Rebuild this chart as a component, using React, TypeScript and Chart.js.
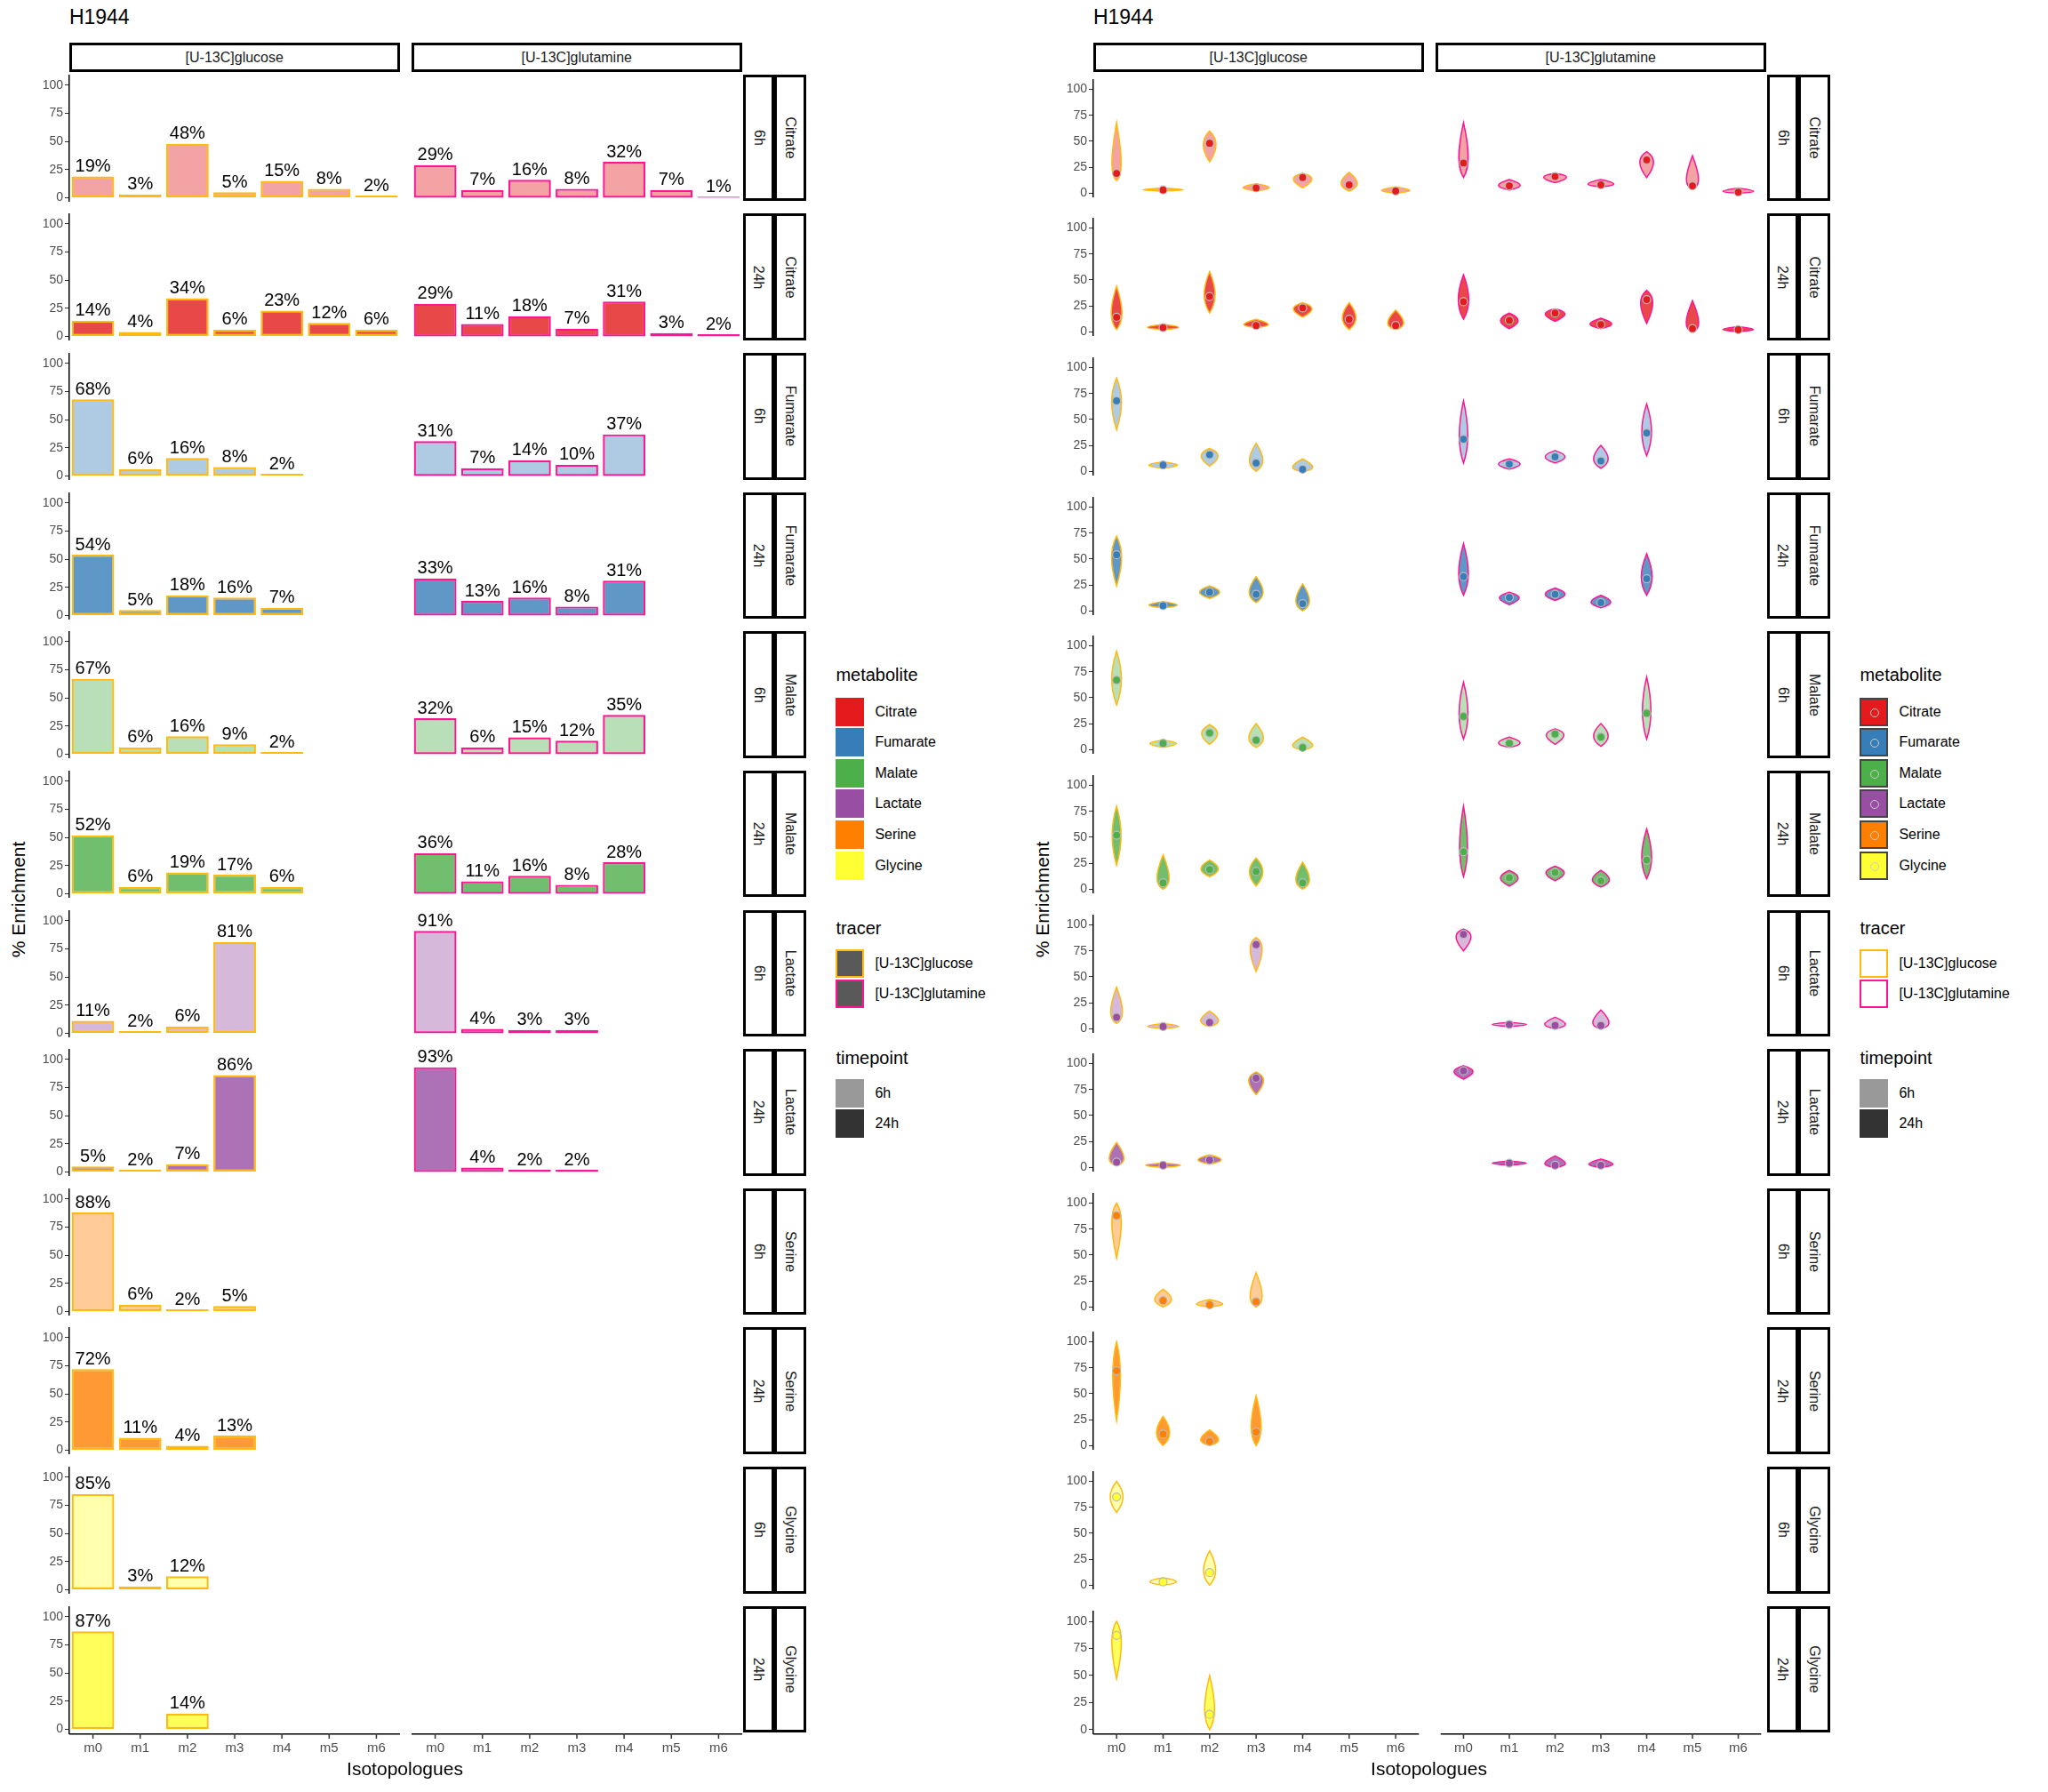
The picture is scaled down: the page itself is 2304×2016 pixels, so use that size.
import React, { useEffect, useRef } from "react";
import { Chart, registerables } from "chart.js";
Chart.register(...registerables);

const S = 2304 / 1568;
const FONT = "'Liberation Sans', Arial, sans-serif";

const metabolites = ["Citrate", "Fumarate", "Malate", "Lactate", "Serine", "Glycine"];
const timepoints = ["6h", "24h"];
const tracers = ["[U-13C]glucose", "[U-13C]glutamine"];
const isotopologues = ["m0", "m1", "m2", "m3", "m4", "m5", "m6"];
const yTicks = [0, 25, 50, 75, 100];

const metaboliteColors = ["#E41A1C", "#377EB8", "#4DAF4A", "#984EA3", "#FF7F00", "#FFFF33"];
const tracerColors = ["#FFB90F", "#FF1493"];

// mean enrichment (%) per isotopologue
const citrate6hGlucose = [19, 3, 48, 5, 15, 8, 2];
const citrate6hGlutamine = [29, 7, 16, 8, 32, 7, 1];
const citrate24hGlucose = [14, 4, 34, 6, 23, 12, 6];
const citrate24hGlutamine = [29, 11, 18, 7, 31, 3, 2];
const fumarate6hGlucose = [68, 6, 16, 8, 2];
const fumarate6hGlutamine = [31, 7, 14, 10, 37];
const fumarate24hGlucose = [54, 5, 18, 16, 7];
const fumarate24hGlutamine = [33, 13, 16, 8, 31];
const malate6hGlucose = [67, 6, 16, 9, 2];
const malate6hGlutamine = [32, 6, 15, 12, 35];
const malate24hGlucose = [52, 6, 19, 17, 6];
const malate24hGlutamine = [36, 11, 16, 8, 28];
const lactate6hGlucose = [11, 2, 6, 81];
const lactate6hGlutamine = [91, 4, 3, 3];
const lactate24hGlucose = [5, 2, 7, 86];
const lactate24hGlutamine = [93, 4, 2, 2];
const serine6hGlucose = [88, 6, 2, 5];
const serine24hGlucose = [72, 11, 4, 13];
const glycine6hGlucose = [85, 3, 12];
const glycine24hGlucose = [87, null, 14];

// violin ranges [low, high] per isotopologue
const citrate6hGlucoseRange = [[12, 68], [2, 5], [30, 60], [2, 9], [5, 19], [2, 20], [0, 6]];
const citrate6hGlutamineRange = [[15, 68], [3, 13], [10, 19], [6, 13], [15, 40], [4, 36], [0, 5]];
const citrate24hGlucoseRange = [[2, 44], [2, 7], [18, 58], [4, 12], [14, 28], [2, 28], [2, 21]];
const citrate24hGlutamineRange = [[12, 55], [3, 18], [10, 22], [3, 13], [8, 40], [0, 30], [0, 5]];
const fumarate6hGlucoseRange = [[40, 90], [3, 9], [5, 22], [0, 27], [0, 12]];
const fumarate6hGlutamineRange = [[8, 68], [2, 12], [8, 20], [3, 25], [15, 65]];
const fumarate24hGlucoseRange = [[24, 72], [3, 9], [12, 24], [8, 33], [0, 26]];
const fumarate24hGlutamineRange = [[15, 65], [6, 18], [10, 22], [3, 15], [15, 55]];
const malate6hGlucoseRange = [[43, 95], [2, 9], [5, 24], [2, 25], [0, 12]];
const malate6hGlutamineRange = [[10, 65], [2, 12], [5, 20], [3, 25], [10, 70]];
const malate24hGlucoseRange = [[23, 80], [0, 33], [12, 28], [3, 30], [0, 26]];
const malate24hGlutamineRange = [[12, 80], [3, 18], [8, 22], [2, 18], [10, 58]];
const lactate6hGlucoseRange = [[5, 40], [0, 5], [2, 17], [55, 88]];
const lactate6hGlutamineRange = [[75, 96], [2, 6], [0, 11], [0, 18]];
const lactate24hGlucoseRange = [[2, 24], [0, 4], [3, 12], [70, 92]];
const lactate24hGlutamineRange = [[85, 98], [2, 6], [0, 11], [0, 8]];
const serine6hGlucoseRange = [[47, 100], [0, 17], [0, 7], [0, 33]];
const serine24hGlucoseRange = [[24, 100], [0, 28], [0, 15], [0, 48]];
const glycine6hGlucoseRange = [[70, 100], [0, 7], [0, 33]];
const glycine24hGlucoseRange = [[47, 100], [0, 8], [0, 50]];

const values: Record<string, (number | null)[]> = {
  "Citrate|6h|0": citrate6hGlucose, "Citrate|6h|1": citrate6hGlutamine,
  "Citrate|24h|0": citrate24hGlucose, "Citrate|24h|1": citrate24hGlutamine,
  "Fumarate|6h|0": fumarate6hGlucose, "Fumarate|6h|1": fumarate6hGlutamine,
  "Fumarate|24h|0": fumarate24hGlucose, "Fumarate|24h|1": fumarate24hGlutamine,
  "Malate|6h|0": malate6hGlucose, "Malate|6h|1": malate6hGlutamine,
  "Malate|24h|0": malate24hGlucose, "Malate|24h|1": malate24hGlutamine,
  "Lactate|6h|0": lactate6hGlucose, "Lactate|6h|1": lactate6hGlutamine,
  "Lactate|24h|0": lactate24hGlucose, "Lactate|24h|1": lactate24hGlutamine,
  "Serine|6h|0": serine6hGlucose, "Serine|24h|0": serine24hGlucose,
  "Glycine|6h|0": glycine6hGlucose, "Glycine|24h|0": glycine24hGlucose,
};
const ranges: Record<string, number[][]> = {
  "Citrate|6h|0": citrate6hGlucoseRange, "Citrate|6h|1": citrate6hGlutamineRange,
  "Citrate|24h|0": citrate24hGlucoseRange, "Citrate|24h|1": citrate24hGlutamineRange,
  "Fumarate|6h|0": fumarate6hGlucoseRange, "Fumarate|6h|1": fumarate6hGlutamineRange,
  "Fumarate|24h|0": fumarate24hGlucoseRange, "Fumarate|24h|1": fumarate24hGlutamineRange,
  "Malate|6h|0": malate6hGlucoseRange, "Malate|6h|1": malate6hGlutamineRange,
  "Malate|24h|0": malate24hGlucoseRange, "Malate|24h|1": malate24hGlutamineRange,
  "Lactate|6h|0": lactate6hGlucoseRange, "Lactate|6h|1": lactate6hGlutamineRange,
  "Lactate|24h|0": lactate24hGlucoseRange, "Lactate|24h|1": lactate24hGlutamineRange,
  "Serine|6h|0": serine6hGlucoseRange, "Serine|24h|0": serine24hGlucoseRange,
  "Glycine|6h|0": glycine6hGlucoseRange, "Glycine|24h|0": glycine24hGlucoseRange,
};

function rgba(hex: string, a: number) {
  const n = parseInt(hex.slice(1), 16);
  return `rgba(${(n >> 16) & 255},${(n >> 8) & 255},${n & 255},${a})`;
}

const AXW = 40, AXH = 34;

type CellProps = {
  left: number; top: number; w: number; h: number; kind: "bar" | "violin";
  mi: number; ti: number; tr: number; showY: boolean; showX: boolean;
};

function Cell(p: CellProps) {
  const ref = useRef<HTMLCanvasElement>(null);
  const key = `${metabolites[p.mi]}|${timepoints[p.ti]}|${p.tr}`;
  const vals = values[key] || [];
  const rng = ranges[key] || [];
  const cw = Math.round(p.w + (p.showY ? AXW : 0));
  const ch = Math.round(p.h + (p.showX ? AXH : 0));
  useEffect(() => {
    const data = isotopologues.map((_, i) => (vals[i] === undefined ? null : vals[i]));
    const base = metaboliteColors[p.mi];
    const fill = rgba(base, p.ti === 0 ? 0.4 : 0.8);
    const border = tracerColors[p.tr];
    const labelPlugin = {
      id: "lbl",
      afterDatasetsDraw(chart: any) {
        if (p.kind !== "bar") return;
        const ctx = chart.ctx;
        const meta = chart.getDatasetMeta(0);
        ctx.save();
        ctx.font = `20px ${FONT}`;
        ctx.fillStyle = "#000";
        ctx.textAlign = "center";
        ctx.textBaseline = "bottom";
        meta.data.forEach((el: any, i: number) => {
          if (data[i] == null) return;
          ctx.fillText(`${data[i]}%`, el.x, el.y - 1);
        });
        ctx.restore();
      },
    };
    const xAxisPlugin = {
      id: "xax",
      afterDraw(chart: any) {
        if (!p.showX) return;
        const ctx = chart.ctx;
        const xs = chart.scales.x;
        const b = chart.chartArea.bottom;
        ctx.save();
        ctx.strokeStyle = "#000";
        ctx.lineWidth = 1.5;
        ctx.beginPath();
        ctx.moveTo(chart.chartArea.left, b + 0.75);
        ctx.lineTo(chart.chartArea.right, b + 0.75);
        ctx.stroke();
        ctx.strokeStyle = "#333";
        ctx.font = `15px ${FONT}`;
        ctx.fillStyle = "#4d4d4d";
        ctx.textAlign = "center";
        ctx.textBaseline = "top";
        isotopologues.forEach((lab, i) => {
          const x = xs.getPixelForValue(i);
          ctx.beginPath();
          ctx.moveTo(x, b);
          ctx.lineTo(x, b + 6);
          ctx.stroke();
          ctx.fillText(lab, x, b + 9);
        });
        ctx.restore();
      },
    };
    const violinPlugin = {
      id: "vio",
      beforeDatasetsDraw(chart: any) {
        if (p.kind !== "violin") return;
        const ctx = chart.ctx;
        const xs = chart.scales.x, ys = chart.scales.y;
        const unit = xs.getPixelForValue(1) - xs.getPixelForValue(0);
        ctx.save();
        data.forEach((v, i) => {
          if (v == null || !rng[i]) return;
          const [lo, hi] = rng[i];
          const r = Math.max(hi - lo, 1);
          const hw = Math.min(0.45, 0.75 / Math.sqrt(r)) * unit;
          const x = xs.getPixelForValue(i);
          const yl = ys.getPixelForValue(lo), yh = ys.getPixelForValue(hi), ym = ys.getPixelForValue(v);
          const k = hw * 1.33;
          ctx.beginPath();
          ctx.moveTo(x, yl);
          ctx.bezierCurveTo(x - k, ym + (yl - ym) * 0.3, x - k, ym - (ym - yh) * 0.3, x, yh);
          ctx.bezierCurveTo(x + k, ym - (ym - yh) * 0.3, x + k, ym + (yl - ym) * 0.3, x, yl);
          ctx.closePath();
          ctx.fillStyle = fill;
          ctx.fill();
          ctx.lineWidth = 1.5;
          ctx.strokeStyle = border;
          ctx.stroke();
        });
        ctx.restore();
      },
    };
    const xScale: any = { type: "category", offset: true, display: false };
    const yScale: any = {
      min: -3.5, max: 109.3, display: p.showY,
      afterBuildTicks: (s: any) => { s.ticks = yTicks.map((v) => ({ value: v })); },
      grid: { drawOnChartArea: false, drawTicks: true, tickLength: 5, color: "#333" },
      border: { display: true, color: "#000", width: 1.5 },
      ticks: { font: { size: 14, family: FONT }, color: "#4d4d4d", padding: 2 },
    };
    if (p.showY) yScale.afterFit = (s: any) => { s.width = AXW; s.paddingTop = 0; s.paddingBottom = 0; };
    const chart = new Chart(ref.current as HTMLCanvasElement, {
      type: p.kind === "bar" ? "bar" : "line",
      data: {
        labels: isotopologues,
        datasets: [
          p.kind === "bar"
            ? {
                data, backgroundColor: fill, borderColor: border, borderWidth: 2.2,
                borderSkipped: false, categoryPercentage: 1, barPercentage: 0.9, clip: false,
              }
            : {
                data, showLine: false, pointRadius: 4.5, pointBackgroundColor: base,
                pointBorderColor: "#bbbbbb", pointBorderWidth: 1.2, clip: false,
              },
        ] as any,
      },
      options: {
        responsive: false, animation: false, devicePixelRatio: 1,
        layout: { padding: { top: 0, left: 0, right: 0, bottom: p.showX ? AXH : 0 } },
        plugins: { legend: { display: false }, tooltip: { enabled: false } },
        scales: { x: xScale, y: yScale },
      } as any,
      plugins: [labelPlugin, violinPlugin, xAxisPlugin],
    });
    return () => chart.destroy();
  }, []);
  return (
    <canvas
      ref={ref}
      width={cw}
      height={ch}
      style={{
        position: "absolute", left: p.left - (p.showY ? AXW : 0), top: p.top,
        width: cw, height: ch,
      }}
    />
  );
}

const stripStyle: React.CSSProperties = {
  position: "absolute", boxSizing: "border-box", border: "3px solid #000", background: "#fff",
  display: "flex", alignItems: "center", justifyContent: "center",
  fontFamily: FONT, fontSize: 16, color: "#1a1a1a",
};

function Panel({ ox, kind }: { ox: number; kind: "bar" | "violin" }) {
  const els: React.ReactNode[] = [];
  const colX = [53, 315];
  const colW = 253;
  const rowTop = (i: number) => 57 + i * 106.6;
  const rowH = 97;
  els.push(
    <div key="t" style={{ position: "absolute", left: (ox + 53) * S, top: 4 * S, fontFamily: FONT, fontSize: 23, color: "#000" }}>H1944</div>
  );
  tracers.forEach((t, c) => {
    els.push(
      <div key={"cs" + c} style={{ ...stripStyle, left: (ox + colX[c]) * S, top: 33 * S, width: colW * S, height: 22 * S }}>{t}</div>
    );
  });
  let r = 0;
  metabolites.forEach((m, mi) => {
    timepoints.forEach((tp, ti) => {
      const top = rowTop(r) * S;
      const last = r === 11;
      [0, 1].forEach((c) => {
        els.push(
          <Cell key={`c${r}_${c}`} left={(ox + colX[c]) * S} top={top} w={colW * S} h={rowH * S}
            kind={kind} mi={mi} ti={ti} tr={c} showY={c === 0} showX={last} />
        );
      });
      els.push(
        <div key={"rs1" + r} style={{ ...stripStyle, left: (ox + 569) * S, top, width: 24 * S, height: rowH * S }}>
          <span style={{ transform: "rotate(90deg)", whiteSpace: "nowrap" }}>{tp}</span>
        </div>
      );
      els.push(
        <div key={"rs2" + r} style={{ ...stripStyle, left: (ox + 593) * S, top, width: 24 * S, height: rowH * S }}>
          <span style={{ transform: "rotate(90deg)", whiteSpace: "nowrap" }}>{m}</span>
        </div>
      );
      r++;
    });
  });
  els.push(
    <div key="yt" style={{ position: "absolute", left: (ox + 14) * S - 100, top: 690 * S - 14, width: 200, textAlign: "center", transform: "rotate(-90deg)", fontFamily: FONT, fontSize: 21 }}>% Enrichment</div>
  );
  els.push(
    <div key="xt" style={{ position: "absolute", left: (ox + 310) * S - 150, top: 1346 * S, width: 300, textAlign: "center", fontFamily: FONT, fontSize: 21 }}>Isotopologues</div>
  );
  const lx = (ox + 640) * S;
  const title = (k: string, txt: string, y: number) => (
    <div key={k} style={{ position: "absolute", left: lx, top: y * S - 13, fontFamily: FONT, fontSize: 20 }}>{txt}</div>
  );
  const item = (k: string, y: number, sw: React.ReactNode, txt: string) => (
    <div key={k} style={{ position: "absolute", left: lx, top: y * S - 17, height: 34, display: "flex", alignItems: "center", fontFamily: FONT, fontSize: 16 }}>
      {sw}
      <span style={{ marginLeft: 12 }}>{txt}</span>
    </div>
  );
  const box = (bg: string, bd: string, dot?: string) => (
    <div style={{ width: 32, height: 32, boxSizing: "border-box", background: bg, border: `2px solid ${bd}`, position: "relative" }}>
      {dot && <div style={{ position: "absolute", left: 10, top: 10, width: 8, height: 8, borderRadius: 5, border: "1.5px solid #ccc", background: dot }} />}
    </div>
  );
  els.push(title("mt", "metabolite", 518));
  [545, 568, 592, 615, 639, 663].forEach((y, i) => {
    els.push(item("mi" + i, y, kind === "bar" ? box(metaboliteColors[i], metaboliteColors[i]) : box(metaboliteColors[i], "#444", metaboliteColors[i]), metabolites[i]));
  });
  els.push(title("tt", "tracer", 712));
  [738, 761].forEach((y, i) => {
    els.push(item("ti" + i, y, kind === "bar" ? box("#595959", tracerColors[i]) : box("#fff", tracerColors[i]), tracers[i]));
  });
  els.push(title("pt", "timepoint", 811));
  [837, 860].forEach((y, i) => {
    els.push(item("pi" + i, y, box(i === 0 ? "#999999" : "#333333", i === 0 ? "#999999" : "#333333"), timepoints[i]));
  });
  return <>{els}</>;
}

export default function App() {
  return (
    <div style={{ position: "absolute", left: 0, top: 0, width: 2304, height: 2016, background: "#fff", overflow: "hidden" }}>
      <Panel ox={0} kind="bar" />
      <Panel ox={784} kind="violin" />
    </div>
  );
}
